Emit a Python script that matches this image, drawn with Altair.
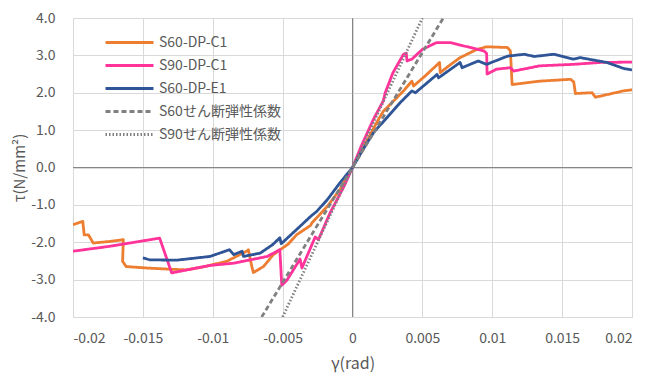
import altair as alt
import pandas as pd

series_names = ["S60-DP-C1", "S90-DP-C1", "S60-DP-E1", "S60せん断弾性係数", "S90せん断弾性係数"]
series_colors = ["#ED7D31", "#FF3399", "#2F5597", "#808080", "#808080"]

# S60-DP-C1 (orange)
c1_gamma = [-0.0200, -0.0193, -0.0192, -0.0189, -0.01855, -0.0174, -0.0164, -0.01645, -0.0162,
            -0.0147, -0.0131, -0.0119, -0.0107, -0.0090, -0.00757, -0.00745, -0.0072, -0.00709,
            -0.00637, -0.00566, -0.00518, -0.0046, -0.0040, -0.0030, -0.0029, -0.0018, -0.0009, 0.0,
            0.0009, 0.00186, 0.0022, 0.00365, 0.00425, 0.00437, 0.0052, 0.00623, 0.00628, 0.0070,
            0.0077, 0.0089, 0.0096, 0.0111, 0.0113, 0.01142, 0.0134, 0.0156, 0.01583, 0.01595,
            0.01715, 0.01738, 0.0194, 0.0200]
c1_tau = [-1.53, -1.44, -1.80, -1.80, -2.02, -1.98, -1.93, -2.51, -2.65,
          -2.69, -2.72, -2.74, -2.66, -2.51, -2.24, -2.20, -2.66, -2.81,
          -2.65, -2.33, -2.20, -2.05, -1.80, -1.55, -1.48, -1.04, -0.59, 0.0,
          0.62, 1.29, 1.50, 2.05, 2.31, 2.18, 2.45, 2.81, 2.54, 2.75,
          2.94, 3.16, 3.23, 3.21, 3.12, 2.22, 2.31, 2.36, 2.29, 1.98,
          2.00, 1.88, 2.05, 2.08]

# S90-DP-C1 (pink)
c90_gamma = [-0.0200, -0.0174, -0.0138, -0.01294, -0.0102, -0.0085, -0.0061, -0.0052, -0.00506,
             -0.0047, -0.00375, -0.00362, -0.00267, -0.00244, -0.0016, -0.0006, 0.0,
             0.0006, 0.0015, 0.0022, 0.00234, 0.0029, 0.00365, 0.00385, 0.0039, 0.00425, 0.0050,
             0.0060, 0.0070, 0.0080, 0.0094, 0.0096, 0.00963, 0.0103, 0.0113, 0.01153, 0.0134,
             0.0158, 0.0177, 0.0200]
c90_tau = [-2.24, -2.11, -1.89, -2.82, -2.62, -2.56, -2.38, -2.20, -3.15,
           -3.02, -2.45, -2.69, -1.86, -1.93, -1.21, -0.50, 0.0,
           0.55, 1.29, 1.78, 2.00, 2.54, 3.03, 3.06, 2.85, 2.90, 3.16,
           3.34, 3.34, 3.25, 3.12, 3.05, 2.50, 2.63, 2.67, 2.58, 2.72,
           2.76, 2.81, 2.82]

# S60-DP-E1 (blue)
e1_gamma = [-0.0150, -0.0145, -0.0126, -0.0102, -0.0088, -0.0085, -0.0079, -0.0078, -0.0066,
            -0.0057, -0.0052, -0.0051, -0.0040, -0.0030, -0.00255, -0.0018, -0.0009, 0.0,
            0.0007, 0.0015, 0.0034, 0.00425, 0.0045, 0.00605, 0.00616, 0.0077, 0.00784, 0.0090,
            0.0096, 0.0111, 0.0123, 0.0130, 0.0144, 0.0158, 0.0163, 0.0182, 0.0194, 0.0200]
e1_tau = [-2.42, -2.47, -2.48, -2.38, -2.20, -2.33, -2.24, -2.38, -2.29,
          -2.06, -1.88, -2.04, -1.66, -1.31, -1.17, -0.86, -0.41, 0.0,
          0.45, 0.93, 1.73, 2.05, 2.00, 2.49, 2.40, 2.81, 2.67, 2.85,
          2.76, 2.98, 3.03, 2.97, 3.03, 2.90, 2.94, 2.81, 2.65, 2.61]

# shear modulus reference lines
g60_gamma = [-0.0065, 0.0065]
g60_tau = [-4.0, 4.0]
g90_gamma = [-0.0050, 0.0050]
g90_tau = [-4.0, 4.0]

x_ticks = [-0.02, -0.015, -0.01, -0.005, 0, 0.005, 0.01, 0.015, 0.02]
y_ticks = [-4, -3, -2, -1, 0, 1, 2, 3, 4]

rows = []
for name, gs, ts in [(series_names[0], c1_gamma, c1_tau),
                     (series_names[1], c90_gamma, c90_tau),
                     (series_names[2], e1_gamma, e1_tau),
                     (series_names[3], g60_gamma, g60_tau),
                     (series_names[4], g90_gamma, g90_tau)]:
    for i, (g, t) in enumerate(zip(gs, ts)):
        rows.append({"series": name, "gamma": g, "tau": t, "idx": i})
df = pd.DataFrame(rows)

FONT = "Noto Sans CJK JP"
GRAY = "#595959"

x_scale = alt.Scale(domain=[-0.02, 0.02], nice=False, zero=False)
y_scale = alt.Scale(domain=[-4, 4], nice=False, zero=False)

x_axis = alt.Axis(title="γ(rad)", values=x_ticks, labelExpr="toString(datum.value)",
                  grid=True, gridColor="#d9d9d9", ticks=False, domain=False,
                  labelPadding=14, titlePadding=10, labelFontSize=14, titleFontSize=16,
                  labelColor=GRAY, titleColor=GRAY, titleFontWeight="normal",
                  labelFont=FONT, titleFont=FONT, labelOverlap=False)
y_axis = alt.Axis(title="τ(N/mm²)", values=y_ticks,
                  labelExpr="replace(format(datum.value, '.1f'), '\u2212', '-')",
                  grid=True, gridColor="#d9d9d9", ticks=False, domain=False,
                  labelPadding=18, titlePadding=3, labelFontSize=14, titleFontSize=15,
                  labelColor=GRAY, titleColor=GRAY, titleFontWeight="normal",
                  labelFont=FONT, titleFont=FONT, labelOverlap=False)

lines = alt.Chart(df).mark_line(clip=True, strokeJoin="round").encode(
    x=alt.X("gamma:Q", scale=x_scale, axis=x_axis),
    y=alt.Y("tau:Q", scale=y_scale, axis=y_axis),
    color=alt.Color("series:N", scale=alt.Scale(domain=series_names, range=series_colors),
                    sort=series_names,
                    legend=alt.Legend(title=None, orient="none", legendX=47, legendY=15,
                                      symbolType="M-3,0H3", symbolSize=256, labelOffset=20,
                                      labelFontSize=14, labelColor=GRAY, labelFont=FONT,
                                      rowPadding=6, padding=0, labelLimit=300)),
    strokeDash=alt.StrokeDash("series:N", sort=series_names,
                              scale=alt.Scale(domain=series_names,
                                              range=[[1, 0], [1, 0], [1, 0], [5, 3], [1.5, 2]])),
    strokeWidth=alt.StrokeWidth("series:N", sort=series_names,
                                scale=alt.Scale(domain=series_names, range=[2.8, 2.8, 2.8, 1.6, 1.6])),
    order="idx:Q",
)

zero_v = alt.Chart(pd.DataFrame({"gamma": [0]})).mark_rule(color="#868686", strokeWidth=1).encode(
    x=alt.X("gamma:Q", scale=x_scale, axis=x_axis))
zero_h = alt.Chart(pd.DataFrame({"tau": [0]})).mark_rule(color="#868686", strokeWidth=1).encode(
    y=alt.Y("tau:Q", scale=y_scale, axis=y_axis))

chart = alt.layer(zero_v, zero_h, lines).properties(
    width=559, height=299,
    autosize=alt.AutoSizeParams(type="none"),
    padding={"left": 65, "top": 10, "right": 9, "bottom": 58},
).configure_view(stroke="#868686", strokeWidth=1).configure(background="white")

chart.save("out.html", embed_options={"renderer": "svg", "actions": False})
